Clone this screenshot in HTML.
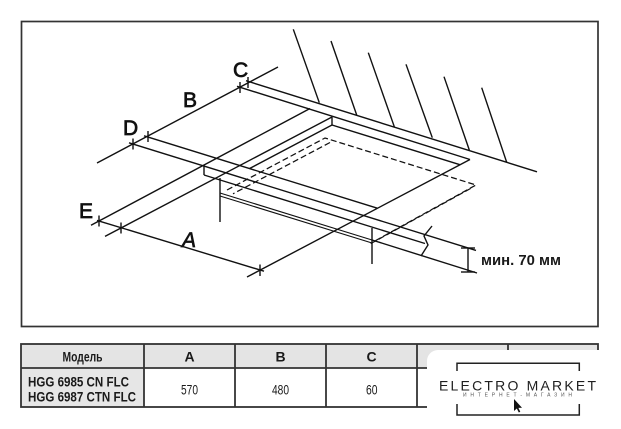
<!DOCTYPE html>
<html>
<head>
<meta charset="utf-8">
<style>
  html,body{margin:0;padding:0;background:#fff;}
  body{width:621px;height:429px;overflow:hidden;}
  svg{display:block;}
  .ln{stroke:#111;stroke-width:1.4;fill:none;stroke-linecap:butt;}
  .ds{stroke:#111;stroke-width:1.25;fill:none;stroke-dasharray:6 3;}
  .lbl{font-family:"Liberation Sans",Arial,sans-serif;font-size:21px;fill:#111;stroke:#111;stroke-width:0.7;}
  .tb{font-family:"Liberation Sans",Arial,sans-serif;fill:#1a1a1a;}
</style>
</head>
<body>
<svg width="621" height="429" viewBox="0 0 621 429" xmlns="http://www.w3.org/2000/svg">
  <rect x="0" y="0" width="621" height="429" fill="#fff"/>
  <!-- frame -->
  <rect x="21.5" y="21.5" width="576.5" height="305" fill="none" stroke="#333" stroke-width="1.7"/>

  <g class="ln">
    <!-- wall hatch -->
    <line x1="293.3" y1="29.3" x2="319.3" y2="102.7"/>
    <line x1="331" y1="41" x2="356.7" y2="115"/>
    <line x1="368.3" y1="52.7" x2="394.3" y2="126.7"/>
    <line x1="406" y1="64.3" x2="432.3" y2="137.7"/>
    <line x1="444" y1="76.7" x2="469.3" y2="150"/>
    <line x1="481.7" y1="87.7" x2="506.7" y2="162.3"/>
    <!-- wall base -->
    <line x1="246" y1="80.7" x2="537" y2="171.8"/>
    <!-- line a (cut-out back) -->
    <line x1="237" y1="86.3" x2="470" y2="159.5"/>
    <!-- B dimension line -->
    <line x1="97" y1="163" x2="278" y2="67"/>
    <!-- front top edge (D1) -->
    <line x1="129" y1="142.8" x2="476" y2="250.4"/>
    <!-- cut-out front edge (D2) -->
    <line x1="144" y1="135.8" x2="377.7" y2="208.3"/>
    <!-- E-A dimension line -->
    <line x1="97" y1="220.4" x2="264" y2="271.2"/>
    <!-- E1 extension -->
    <line x1="91" y1="225.3" x2="310" y2="108.5"/>
    <!-- E2 extension -->
    <line x1="105" y1="236.4" x2="332" y2="117"/>
    <!-- line c (A right extension) -->
    <line x1="247" y1="277" x2="470" y2="159.5"/>
    <!-- corner K vertical -->
    <line x1="204" y1="166" x2="204" y2="175"/>
    <!-- bottom front edge -->
    <line x1="204" y1="175" x2="425" y2="243.5"/>
    <!-- P1 vertical + inner cut-out edges -->
    <line x1="332" y1="117" x2="332" y2="125"/>
    <line x1="332" y1="125" x2="459.9" y2="164.7"/>
    <line x1="332" y1="125" x2="249.6" y2="168.5"/>
    <!-- verticals under hob -->
    <line x1="220" y1="178" x2="220" y2="222"/>
    <line x1="372" y1="228" x2="372" y2="264"/>
    <!-- lower double line -->
    <line x1="220" y1="193" x2="372" y2="240" stroke-width="1.1"/>
    <line x1="220" y1="196" x2="372" y2="243" stroke-width="1.1"/>
    <line x1="372" y1="240" x2="477" y2="273"/>
    <!-- break zigzag -->
    <polyline points="432,226 424,236 428,245 421,256"/>
    <!-- min 70 mm dimension -->
    <line x1="468" y1="248" x2="468" y2="272"/>
    <line x1="461" y1="248" x2="475" y2="248"/>
    <line x1="461" y1="272" x2="475" y2="272"/>
    <!-- ticks -->
    <line x1="133" y1="138.5" x2="133" y2="149.5"/>
    <line x1="148" y1="131" x2="148" y2="142"/>
    <line x1="240" y1="82" x2="240" y2="93"/>
    <line x1="248" y1="77" x2="248" y2="88"/>
    <line x1="99" y1="215.5" x2="99" y2="226.5"/>
    <line x1="121" y1="222.5" x2="121" y2="233.5"/>
    <line x1="260" y1="264.5" x2="260" y2="276"/>
  </g>

  <!-- dashed hob body -->
  <g class="ds">
    <polyline points="227,190 325,138 476,185 373,242"/>
    <line x1="330" y1="142.5" x2="233" y2="193.8"/>
    <line x1="470.5" y1="188.5" x2="369.5" y2="244.3"/>
  </g>

  <!-- labels -->
  <text class="lbl" x="233" y="77">C</text>
  <text class="lbl" x="183" y="107">B</text>
  <text class="lbl" x="123" y="135">D</text>
  <text class="lbl" x="79" y="218">E</text>
  <text class="lbl" x="182" y="247" font-style="italic">A</text>
  <text x="481" y="265" font-family="Liberation Sans, Arial, sans-serif" font-size="15" font-weight="bold" fill="#1a1a1a" textLength="80" lengthAdjust="spacingAndGlyphs">мин. 70 мм</text>

  <!-- table -->
  <rect x="21" y="344" width="577" height="24" fill="#e4e4e4"/>
  <rect x="21" y="368" width="123" height="39" fill="#e6e6e6"/>
  <g stroke="#333" stroke-width="1.8" fill="none">
    <rect x="21" y="344" width="577" height="63"/>
    <line x1="21" y1="368" x2="598" y2="368"/>
    <line x1="144" y1="344" x2="144" y2="407"/>
    <line x1="235" y1="344" x2="235" y2="407"/>
    <line x1="326" y1="344" x2="326" y2="407"/>
    <line x1="417" y1="344" x2="417" y2="407"/>
    <line x1="508" y1="344" x2="508" y2="407"/>
  </g>
  <g class="tb" font-weight="bold" font-size="14">
    <text x="82.5" y="361.5" text-anchor="middle" textLength="40" lengthAdjust="spacingAndGlyphs">Модель</text>
    <text x="189.5" y="361.5" text-anchor="middle">A</text>
    <text x="280.5" y="361.5" text-anchor="middle">B</text>
    <text x="371.5" y="361.5" text-anchor="middle">C</text>
  </g>
  <g class="tb" font-weight="bold" font-size="13.5">
    <text x="28" y="386.5" textLength="101" lengthAdjust="spacingAndGlyphs">HGG 6985 CN FLC</text>
    <text x="28" y="401.5" textLength="108" lengthAdjust="spacingAndGlyphs">HGG 6987 CTN FLC</text>
  </g>
  <g class="tb" font-size="14">
    <text x="181" y="394.5" textLength="17" lengthAdjust="spacingAndGlyphs">570</text>
    <text x="272" y="394.5" textLength="17" lengthAdjust="spacingAndGlyphs">480</text>
    <text x="366" y="394.5" textLength="11.5" lengthAdjust="spacingAndGlyphs">60</text>
  </g>

  <!-- logo overlay -->
  <rect x="427" y="350" width="210" height="100" rx="11" ry="11" fill="#fff"/>
  <g stroke="#222" stroke-width="1.5" fill="none">
    <polyline points="457,371 457,363.3 579.3,363.3 579.3,371"/>
    <polyline points="457,404 457,415 579.3,415 579.3,404"/>
  </g>
  <text x="439" y="390.5" font-family="Liberation Sans, Arial, sans-serif" font-size="14" fill="#1e1e1e" textLength="157" lengthAdjust="spacing">ELECTRO MARKET</text>
  <text x="463" y="396.5" font-family="Liberation Sans, Arial, sans-serif" font-size="5" fill="#555" textLength="109" lengthAdjust="spacing">ИНТЕРНЕТ-МАГАЗИН</text>
  <path d="M514,399 L514,411 L516.8,408.5 L518.8,412.5 L520.3,411.8 L518.4,407.9 L522,407.7 Z" fill="#111"/>
</svg>
</body>
</html>
